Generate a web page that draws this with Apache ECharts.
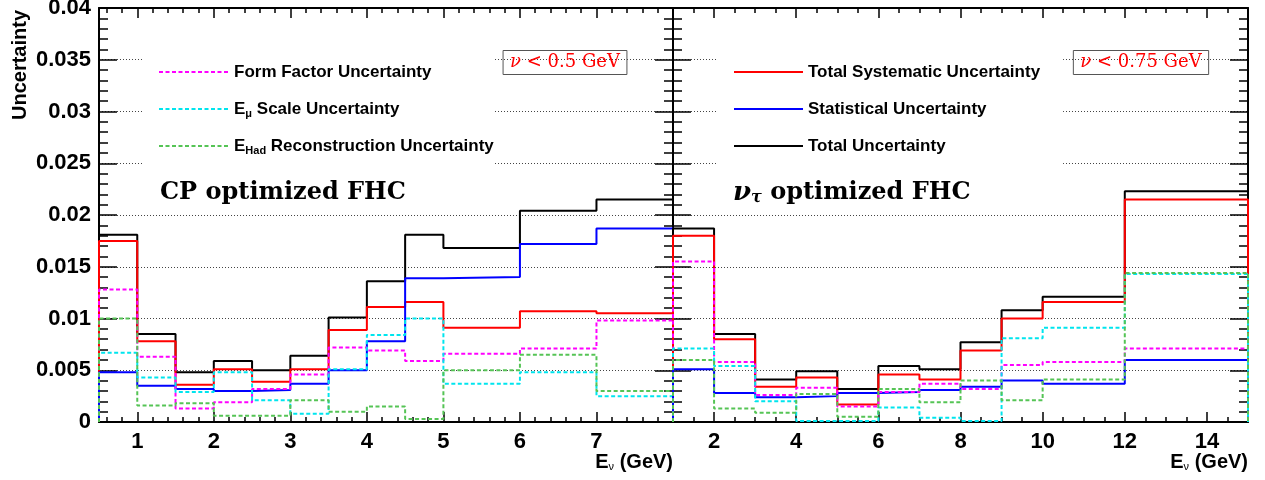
<!DOCTYPE html>
<html>
<head>
<meta charset="utf-8">
<script type="text/javascript" src="https://cdn.jsdelivr.net/npm/echarts@6/dist/echarts.min.js"></script>
<style>html,body{margin:0;padding:0;background:#fff;}</style>
</head>
<body>
<div id="container" style="width:1265px; height:480px;"></div>

<script type="text/javascript">
// bin edges in GeV
var cpEdges = [0.5, 1, 1.5, 2, 2.5, 3, 3.5, 4, 4.5, 5, 6, 7, 8];
var tauEdges = [1, 2, 3, 4, 5, 6, 7, 8, 9, 10, 12, 15];

// CP optimized FHC
var cpTotal = [0.0181, 0.0085, 0.0048, 0.0059, 0.0050, 0.0064, 0.0101, 0.0136, 0.0181, 0.0168, 0.0204, 0.0215];
var cpSyst  = [0.0175, 0.0078, 0.0036, 0.0051, 0.0039, 0.0051, 0.0089, 0.0111, 0.0116, 0.0091, 0.0107, 0.0105];
var cpStat  = [0.0048, 0.0035, 0.0032, 0.0030, 0.0031, 0.0037, 0.0050, 0.0078, 0.0139, 0.0140, 0.0172, 0.0187];
var cpFF    = [0.0128, 0.0063, 0.0013, 0.0019, 0.0032, 0.0046, 0.0072, 0.0069, 0.0059, 0.0066, 0.0071, 0.0098];
var cpEmu   = [0.0067, 0.0043, 0.0029, 0.0048, 0.0021, 0.0008, 0.0051, 0.0084, 0.0100, 0.0037, 0.0048, 0.0025];
var cpEhad  = [0.0100, 0.0016, 0.0018, 0.0006, 0.0006, 0.0021, 0.0010, 0.0015, 0.0003, 0.0050, 0.0065, 0.0030];

// nu_tau optimized FHC
var tauTotal = [0.0187, 0.0085, 0.0041, 0.0049, 0.0032, 0.0054, 0.0051, 0.0077, 0.0108, 0.0121, 0.0223];
var tauSyst  = [0.0180, 0.0080, 0.0034, 0.0043, 0.0017, 0.0046, 0.0041, 0.0069, 0.0100, 0.0116, 0.0215];
var tauStat  = [0.0051, 0.0028, 0.0024, 0.0025, 0.0028, 0.0029, 0.0031, 0.0034, 0.0040, 0.0037, 0.0060];
var tauFF    = [0.0155, 0.0058, 0.0026, 0.0033, 0.0015, 0.0029, 0.0037, 0.0032, 0.0055, 0.0058, 0.0071];
var tauEmu   = [0.0071, 0.0054, 0.0020, 0.0001, 0.0001, 0.0014, 0.0004, 0.0001, 0.0081, 0.0091, 0.0143];
var tauEhad  = [0.0060, 0.0013, 0.0009, 0.0027, 0.0005, 0.0032, 0.0019, 0.0040, 0.0021, 0.0041, 0.0144];

var names = {
	total: 'Total Uncertainty',
	syst: 'Total Systematic Uncertainty',
	stat: 'Statistical Uncertainty',
	ff: 'Form Factor Uncertainty',
	emu: 'E\u03bc Scale Uncertainty',
	ehad: 'EHad Reconstruction Uncertainty'
};

var dom = document.getElementById("container");
var myChart = echarts.init(dom);
var option = null;

var sansFont = 'Liberation Sans';
var serifFont = 'DejaVu Serif';

// outline of a ROOT-style histogram
function histPoints(edges, vals) {
	var pts = [[edges[0], 0]];
	for (var i = 0; i < vals.length; i++) {
		pts.push([edges[i], vals[i]]);
		pts.push([edges[i + 1], vals[i]]);
	}
	pts.push([edges[edges.length - 1], 0]);
	return pts;
}

function histSeries(name, edges, vals, color, dashed, panel) {
	return {
		name: name,
		type: 'line',
		xAxisIndex: panel * 2,
		yAxisIndex: panel * 2,
		symbol: 'none',
		silent: true,
		animation: false,
		itemStyle: { color: color },
		lineStyle: { color: color, width: 2, type: dashed ? [4, 2.5] : 'solid' },
		data: histPoints(edges, vals)
	};
}

var frameLine = { onZero: false, lineStyle: { color: '#000', width: 2 } };

function xAxes(grid, min, max, minorSplit) {
	var tick = { inside: true, length: 10, lineStyle: { color: '#000', width: 1.5 } };
	var minor = { show: true, splitNumber: minorSplit, length: 5, lineStyle: { color: '#000', width: 1.5 } };
	return [{
		gridIndex: grid, type: 'value', position: 'bottom', min: min, max: max, splitNumber: 7,
		axisLine: frameLine, axisTick: tick, minorTick: minor, splitLine: { show: false },
		axisLabel: {
			margin: 9, fontSize: 22, fontWeight: 'bold', fontFamily: sansFont, color: '#000',
			showMinLabel: false, showMaxLabel: false
		},
		name: 'E{sub|\u03bd} (GeV)',
		nameLocation: 'end',
		nameGap: 0,
		nameMoveOverlap: false,
		nameTextStyle: {
			fontSize: 20, fontWeight: 'bold', fontFamily: sansFont, color: '#000',
			align: 'right', verticalAlign: 'top', padding: [30, 0, 0, 0],
			rich: { sub: { fontSize: 11, fontWeight: 'normal', fontFamily: sansFont, color: '#000', lineHeight: 12, verticalAlign: 'bottom' } }
		}
	}, {
		gridIndex: grid, type: 'value', position: 'top', min: min, max: max, splitNumber: 7,
		axisLine: frameLine, axisTick: tick, minorTick: minor, splitLine: { show: false },
		axisLabel: { show: false }
	}];
}

function yAxis(grid, pos, labels, gridLines) {
	var ax = {
		gridIndex: grid, type: 'value', position: pos, min: 0, max: 0.04, interval: 0.005,
		axisLine: frameLine,
		axisTick: { inside: true, length: 18, lineStyle: { color: '#000', width: 1.5 } },
		minorTick: { show: true, splitNumber: 5, length: 9, lineStyle: { color: '#000', width: 1.5 } },
		axisLabel: { show: labels, margin: 8, fontSize: 22, fontWeight: 'bold', fontFamily: sansFont, color: '#000' },
		splitLine: { show: gridLines, lineStyle: { color: '#444', width: 1, type: [1, 2] } }
	};
	if (labels) {
		ax.name = 'Uncertainty';
		ax.nameLocation = 'end';
		ax.nameRotate = 90;
		ax.nameGap = -2;
		ax.nameMoveOverlap = false;
		ax.nameTextStyle = {
			fontSize: 20, fontWeight: 'bold', fontFamily: sansFont, color: '#000',
			align: 'right', verticalAlign: 'bottom', padding: [0, 0, 69, 0]
		};
	}
	return ax;
}

var legendText = {
	fontFamily: sansFont, fontWeight: 'bold', fontSize: 17, color: '#000', lineHeight: 20,
	rich: { sub: { fontFamily: sansFont, fontWeight: 'bold', fontSize: 11, color: '#000', lineHeight: 9, verticalAlign: 'bottom' } }
};

function legendLabel(name) {
	if (name === names.emu) return 'E{sub|\u03bc} Scale Uncertainty';
	if (name === names.ehad) return 'E{sub|Had} Reconstruction Uncertainty';
	return name;
}

// line-only legend markers, no symbol on top
var legendMarker = { color: 'rgba(0,0,0,0)', borderWidth: 0, opacity: 0 };

var series = [];
[[cpEdges, cpTotal, cpSyst, cpStat, cpFF, cpEmu, cpEhad], [tauEdges, tauTotal, tauSyst, tauStat, tauFF, tauEmu, tauEhad]].forEach(function (p, i) {
	series.push(histSeries(names.total, p[0], p[1], '#000000', false, i));
	series.push(histSeries(names.syst, p[0], p[2], '#ff0000', false, i));
	series.push(histSeries(names.stat, p[0], p[3], '#0000ff', false, i));
	series.push(histSeries(names.ff, p[0], p[4], '#ff00ff', true, i));
	series.push(histSeries(names.emu, p[0], p[5], '#00e5ee', true, i));
	series.push(histSeries(names.ehad, p[0], p[6], '#55c455', true, i));
});

function boxLabel(x, txt) {
	return {
		type: 'text', x: x, y: 62.5, z: 5,
		style: {
			text: '{i|\u03bd} ' + txt,
			fill: '#ff0000', fontFamily: serifFont, fontSize: 18,
			align: 'center', verticalAlign: 'middle',
			padding: [3, 7, 3, 7], borderColor: '#555', borderWidth: 1,
			rich: { i: { fontFamily: serifFont, fontStyle: 'italic', fontSize: 18, fill: '#ff0000' } }
		}
	};
}

option = {
	backgroundColor: '#fff',
	animation: false,
	grid: [
		{ left: 99, right: 592, top: 8, bottom: 58, outerBoundsMode: 'none' },
		{ left: 673, right: 17, top: 8, bottom: 58, outerBoundsMode: 'none' }
	],
	xAxis: xAxes(0, 0.5, 8, 5).concat(xAxes(1, 1, 15, 4)),
	yAxis: [
		yAxis(0, 'left', true, true),
		yAxis(0, 'right', false, false),
		yAxis(1, 'left', false, true),
		yAxis(1, 'right', false, false)
	],
	legend: [{
		data: [names.ff, names.emu, names.ehad],
		orient: 'vertical', left: 143, top: 42,
		padding: [20, 0, 15, 15], itemGap: 17, itemWidth: 70, itemHeight: 14,
		backgroundColor: '#fff', selectedMode: false,
		itemStyle: legendMarker, lineStyle: { width: 2 },
		textStyle: legendText, formatter: legendLabel
	}, {
		data: [names.syst, names.stat, names.total],
		orient: 'vertical', left: 718, top: 42,
		padding: [20, 23, 15, 15], itemGap: 17, itemWidth: 69, itemHeight: 14,
		backgroundColor: '#fff', selectedMode: false,
		itemStyle: legendMarker, lineStyle: { width: 2 },
		textStyle: legendText, formatter: legendLabel
	}],
	graphic: [
		{
			type: 'text', x: 160, y: 193, z: 5,
			style: { text: 'CP optimized FHC', fill: '#000', fontFamily: serifFont, fontWeight: 'bold', fontSize: 24, verticalAlign: 'middle' }
		},
		{
			type: 'text', x: 733, y: 193, z: 5,
			style: {
				text: '{nu|\u03bd}{tau|\u03c4}{b| optimized FHC}',
				fill: '#000', fontFamily: serifFont, fontSize: 24, verticalAlign: 'middle',
				rich: {
					nu: { fontFamily: serifFont, fontStyle: 'italic', fontWeight: 'bold', fontSize: 26, fill: '#000' },
					tau: { fontFamily: serifFont, fontStyle: 'italic', fontWeight: 'bold', fontSize: 16, fill: '#000', lineHeight: 12, verticalAlign: 'bottom' },
					b: { fontFamily: serifFont, fontWeight: 'bold', fontSize: 24, fill: '#000' }
				}
			}
		},
		boxLabel(565, '< 0.5 GeV'),
		boxLabel(1141, '< 0.75 GeV')
	],
	series: series
};

if (option && typeof option === "object") {
	myChart.setOption(option, true);
}
</script>
</body>
</html>
